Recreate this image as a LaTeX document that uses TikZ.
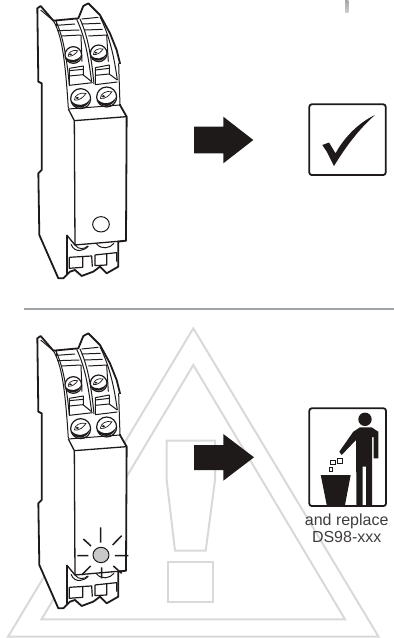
\documentclass[tikz,border=0pt]{standalone}
\usepackage{fontspec}
\setmainfont{Liberation Sans}
\definecolor{faint}{HTML}{D9D9D9}
\definecolor{ink}{HTML}{1E1A1A}
\definecolor{ledgray}{HTML}{C9C9C9}
\definecolor{rulegray}{HTML}{A0A4A6}
\tikzset{
  thick line/.style={draw=ink,line width=1.8pt,line join=round},
  thin line/.style={draw=ink,line width=1pt,line join=round},
  faint line/.style={draw=faint,line width=2pt,line join=miter},
  solid ink/.style={fill=ink,draw=none},
  ray/.style={draw=ink,line width=1.5pt}
}
% x, y, radius
\newcommand{\screwat}[3]{%
  \draw[thin line,fill=white,line width=1.2pt] (#1,#2) circle[radius=#3];
  \begin{scope}[shift={(#1,#2)},scale=#3/27]
    \fill[ink] (-27,3) .. controls (-20,32) and (20,32) .. (27,-3) .. controls (18,20) and (-14,24) .. cycle;
    \draw[ink,line width=0.7pt] (-17,4) .. controls (-17,-10) and (0,-18) .. (14,-14) .. controls (8,-4) and (-4,6) .. (-17,4);
    \fill[ink] (-9,-2) ellipse[x radius=5,y radius=3];
  \end{scope}
}
\newcommand{\device}[1]{%
\begin{scope}[shift={(20,#1)},x=0.3333pt,y=-0.3333pt]
  % outer body
  \draw[thick line,fill=white] (52,25) -- (62,18) -- (100,62) -- (175,55) -- (190,18) -- (205,10) -- (240,45) -- (270,100) -- (290,150) -- (300,190) -- (300,315) -- (320,350) -- (318,722) -- (295,725) -- (295,800) -- (260,820) -- (240,800) -- (220,815) -- (185,828) -- (165,810) -- (150,815) -- (130,835) -- (115,835) -- (58,705) -- (55,520) -- (65,510) -- (65,250) -- (55,245) -- cycle;
  \draw[draw=white,line width=2pt] (300,192) -- (300,313);
  \draw[thin line] (296,190) -- (300,315);
  % housing curves
  \draw[thin line] (62,30) -- (100,62) .. controls (125,105) and (135,170) .. (145,325);
  \draw[thin line] (107,62) .. controls (125,100) and (138,150) .. (148,255);
  \draw[thin line] (170,58) .. controls (195,110) and (205,170) .. (215,245);
  \draw[thin line] (180,57) .. controls (205,110) and (215,180) .. (222,252);
  \draw[thin line] (240,50) .. controls (262,95) and (280,150) .. (292,240);
  % left terminal
  \draw[thin line] (110,62) -- (110,76) -- (165,72);
  \draw[thin line] (112,92) -- (178,90);
  \draw[thin line] (125,108) -- (183,105);
  \draw[thin line] (148,205) -- (190,198) -- (190,225) -- (215,245);
  \draw[thin line] (148,212) -- (190,208);
  \draw[thin line] (148,228) -- (190,224);
  \draw[thin line] (148,205) -- (148,256) -- (218,248);
  % right terminal
  \draw[thin line] (185,57) -- (235,52);
  \draw[thin line] (185,72) -- (242,70);
  \draw[thin line] (195,90) -- (248,88);
  \draw[thin line] (205,108) -- (262,105);
  \draw[thin line] (226,203) -- (268,195) -- (268,222) -- (292,240);
  \draw[thin line] (226,210) -- (268,205);
  \draw[thin line] (226,226) -- (268,222);
  \draw[thin line] (226,203) -- (226,254) -- (292,246);
  % screws
  \screwat{160}{165}{25}
  \screwat{236}{160}{25}
  \draw[thin line] (183,105) -- (186,185);
  \draw[thin line] (260,105) -- (265,185);
  \screwat{182}{296}{30}
  \screwat{260}{291}{30}
  % lower edge and face
  \draw[thin line] (145,327) -- (300,315);
  \draw[thick line,line width=1.3pt] (145,327) -- (163,362) -- (320,350);
  \draw[thick line,line width=1.3pt] (163,362) -- (165,735) -- (318,722);
  % bottom terminals
  \draw[thick line] (140,705) -- (140,825);
  \draw[thick line,line width=1.3pt] (140,705) -- (165,735);
  \draw[thin line] (153,733) .. controls (165,762) and (195,752) .. (205,738);
  \draw[thin line] (165,735) .. controls (175,750) and (195,748) .. (203,738);
  \draw[thin line] (230,732) .. controls (245,750) and (270,745) .. (282,730);
  \draw[thin line] (295,725) -- (295,800);
  \draw[thin line,line width=1.2pt] (148,772) -- (215,768) -- (217,800);
  \draw[thin line,line width=1.2pt] (148,772) -- (148,805) -- (188,802) -- (188,770);
  \draw[thin line,line width=1.2pt] (225,765) -- (290,758) -- (290,785);
  \draw[thin line,line width=1.2pt] (225,765) -- (225,797) -- (260,795) -- (260,762);
\end{scope}}
\begin{document}
\begin{tikzpicture}[x=1pt,y=-1pt]
\useasboundingbox (0,0) rectangle (394,638);
% warning triangle
\draw[faint line] (193.3,328.3) -- (378.6,636.7) -- (8,636.7) -- cycle;
\draw[faint line] (193.3,365) -- (345,619.3) -- (41.5,619.3) -- cycle;
\draw[faint line] (166.7,440.7) -- (215,440.7) -- (215,480) -- (205.7,550.7) -- (175,550.7) -- (166.7,480) -- cycle;
\draw[faint line] (167.7,562.3) rectangle (213.3,602.3);
% stem at the top
\shade[top color=gray!70,bottom color=gray!40] (345,0) rectangle (348.3,12);
% separator
\draw[draw=rulegray,line width=1.4pt] (24,309) -- (100,309) -- (394,309);
% devices
\device{0}
\device{330}
% top LED
\begin{scope}[shift={(20,0)},x=0.3333pt,y=-0.3333pt]
  \draw[thin line,fill=white] (243,673) circle[x radius=25,y radius=23];
\end{scope}
% lit LED
\begin{scope}[shift={(20,330)},x=0.3333pt,y=-0.3333pt]
  \draw[thin line,fill=ledgray] (243,675) circle[x radius=24,y radius=23];
  \draw[ray] (242,592) -- (242,638) (245,712) -- (245,745)
    (172,677) -- (205,677) (285,677) -- (325,677)
    (190,627) -- (213,648) (305,617) -- (278,645)
    (212,708) -- (185,735) (280,708) -- (305,730);
\end{scope}
% arrows
\fill[solid ink] (194,126.7) -- (223.3,126.7) -- (223.3,116.7) -- (253.3,140) -- (223.3,163.3) -- (223.3,153.3) -- (194,153.3) -- cycle;
\fill[solid ink] (194,445) -- (223.3,445) -- (223.3,434) -- (254,457.3) -- (223.3,480.7) -- (223.3,470) -- (194,470) -- cycle;
% checkbox
\draw[draw=ink,line width=1.8pt,rounded corners=2.5pt] (309.3,104.3) rectangle (385.7,175);
\fill[solid ink] (322.3,145) -- (329,142.5) -- (335.5,153.3) .. controls (345,136) and (360,122) .. (375,115) .. controls (358,130) and (345,148) .. (334,166) -- (327,152) -- cycle;
% bin sign
\draw[draw=ink,line width=1.8pt,rounded corners=2.5pt] (309.3,408.3) rectangle (386,506);
\fill[solid ink] (365,419.3) circle[radius=6.7];
\fill[solid ink] (360,427.3) -- (371.7,427.3) -- (378.3,431.7) -- (378.3,458.3) -- (373.5,458.3) -- (373.5,437) -- (372,437) -- (372,505) -- (366,505) -- (366,466.7) -- (362.7,466.7) -- (362.7,505) -- (356.5,505) -- (356,440) -- (341.7,455) -- (339.3,451.7) -- (353.3,431.7) -- cycle;
\fill[solid ink] (320.7,475) -- (350.7,475) -- (345,505) -- (326.7,505) -- cycle;
\draw[draw=ink,line width=0.9pt] (337.3,458.3) rectangle (342.7,463.3);
\draw[draw=ink,line width=0.9pt] (330.7,460) rectangle (335,464);
\draw[draw=ink,line width=0.9pt] (329.3,467.7) rectangle (332.7,471);
\node[font=\fontsize{16}{17.5}\selectfont,text=ink!85,align=center,inner sep=0pt] (caption) at (346.7,528.5) {and replace\\DS98-xxx};
\end{tikzpicture}
\end{document}
